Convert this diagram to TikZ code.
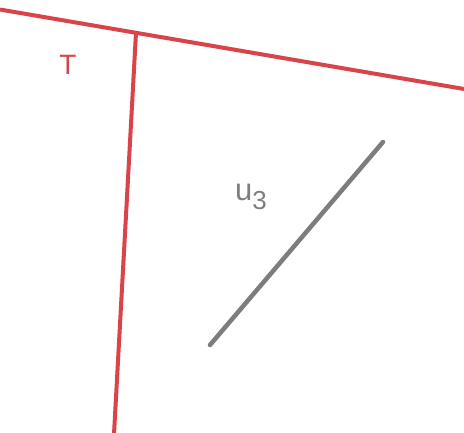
\documentclass[tikz,border=0pt]{standalone}
\usepackage{fontspec}
\setmainfont{Liberation Sans}
\definecolor{tred}{RGB}{217,68,74}
\definecolor{ugray}{RGB}{125,125,125}
\begin{document}
\begin{tikzpicture}[x=1pt,y=-1pt,
  redline/.style={draw=tred,line width=4pt},
  grayline/.style={draw=ugray,line width=4.5pt,line cap=round},
  lbl/.style={inner sep=0pt,anchor=center}]
\useasboundingbox (0,0) rectangle (464,432);
\coordinate (A) at (0,9.5);
\coordinate (B) at (464,89);
\coordinate (C) at (136,32.8);
\coordinate (D) at (114,434);
\coordinate (P) at (210,345);
\coordinate (Q) at (383,142);
\draw[redline] (A) -- (B);
\draw[redline] (C) -- (D);
\draw[grayline] (P) -- (Q);
\node[lbl,text=tred,font=\fontsize{28}{32}\selectfont] (T) at (68,65) {T};
\node[lbl,text=ugray,font=\fontsize{31}{36}\selectfont] (U) at (251,197) {u\raisebox{-9pt}{\fontsize{26}{30}\selectfont 3}};
\end{tikzpicture}
\end{document}
